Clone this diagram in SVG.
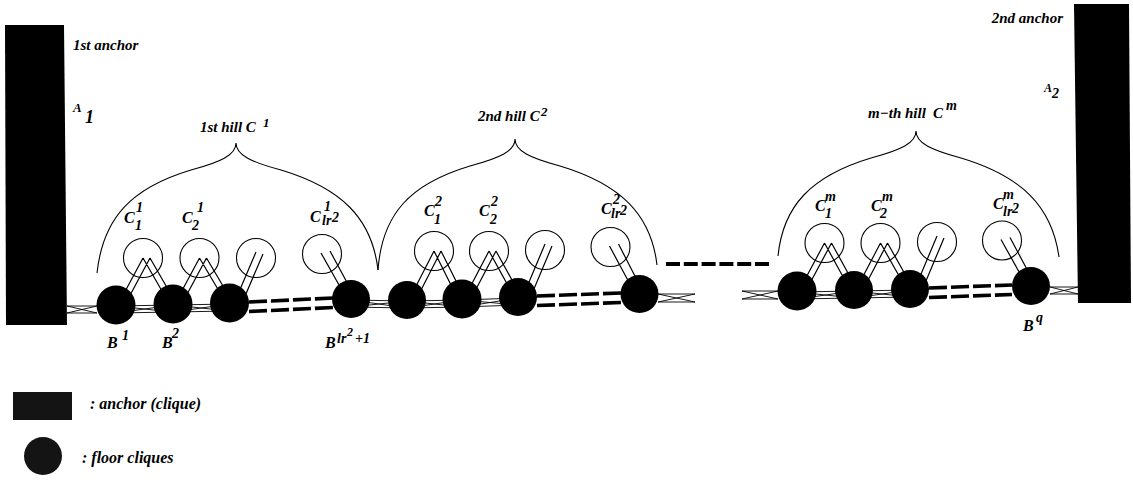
<svg xmlns="http://www.w3.org/2000/svg" width="1133" height="480" viewBox="0 0 1133 480">
  <style>
    .t { font-family: "Liberation Serif", "Times New Roman", serif; font-weight: bold; font-style: italic; fill: #000; }
    .lbl { font-size: 15px; }
    .leg { font-size: 16px; }
    .cc { font-size: 16px; }
    .ss { font-size: 14px; }
    .brace { fill: none; stroke: #000; stroke-width: 1.1; }
    .hillnode { fill: none; stroke: #000; stroke-width: 1.1; }
    .floor { fill: #000; }
    .strand { fill: none; stroke: #000; stroke-width: 0.9; }
    .link { fill: none; stroke: #000; stroke-width: 1.2; }
    .dash { fill: none; stroke: #000; stroke-width: 3.6; stroke-dasharray: 18 4; }
    .gapdash { fill: none; stroke: #000; stroke-width: 4.2; stroke-dasharray: 14 3.8; }
  </style>

  <!-- anchors -->
  <g id="anchor1">
    <polygon points="5,25 64,25 67,325 6,325" fill="#000"/>
    <text class="t lbl" x="73" y="50">1st anchor</text>
    <text class="t" x="73" y="112" font-size="13">A</text>
    <text class="t" x="85" y="123" font-size="18">1</text>
  </g>
  <g id="anchor2">
    <polygon points="1074,4 1129,4 1131,303 1078,303" fill="#000"/>
    <text class="t lbl" x="1063" y="23" text-anchor="end">2nd anchor</text>
    <text class="t" x="1044" y="92" font-size="12">A</text>
    <text class="t" x="1052" y="98" font-size="14">2</text>
  </g>

  <!-- hill braces -->
  <g id="hill1">
    <path class="brace" d="M236,143 C236,155 221,162 191,170 C131,188 103,218 97,273 M236,143 C236,155 251,162 281,170 C341,188 372,218 378,270"/>
    <text class="t lbl" x="200" y="132">1st hill C</text>
    <text class="t" x="263" y="127" font-size="13">1</text>
  </g>
  <g id="hill2">
    <path class="brace" d="M515,139 C515,151 500,158 470,166 C410,184 382,214 378,270 M515,139 C515,151 530,158 560,166 C620,184 651,214 657,265"/>
    <text class="t lbl" x="478" y="121">2nd hill C</text>
    <text class="t" x="541" y="116" font-size="13">2</text>
  </g>
  <g id="hillm">
    <path class="brace" d="M916,131 C916,143 901,150 871,158 C811,176 783,206 778,256 M916,131 C916,143 931,150 961,158 C1021,176 1052,206 1059,257"/>
    <text class="t lbl" y="118"><tspan x="868">m−th hill</tspan><tspan x="933">C</tspan></text>
    <text class="t" x="946" y="110" font-size="14">m</text>
  </g>

  <!-- connectors: floor strands, dashed runs and hill links -->
  <g id="connectors">
    <path class="strand" d="
      M67,306 L97,313 M67,313 L97,306 M67,306 L97,306 M67,313 L97,313
      M116,306 L173,305 M116,313 L173,312 M116,306 L173,312 M116,313 L173,305
      M173,305 L229.5,304 M173,312 L229.5,311 M173,305 L229.5,311 M173,312 L229.5,304
      M351,300 L407,301 M351,307 L407,308 M351,300 L407,308 M351,307 L407,301
      M407,301 L462,300 M407,308 L462,307 M407,301 L462,307 M407,308 L462,300
      M462,300 L518,298 M462,307 L518,305 M462,300 L518,305 M462,307 L518,298
      M658,294 L695,302 M658,302 L695,294 M658,294 L695,294 M658,302 L695,302
      M742,291 L778,299 M742,299 L778,291 M742,291 L778,291 M742,299 L778,299
      M797,292 L854,291 M797,299 L854,298 M797,292 L854,298 M797,299 L854,291
      M854,291 L910,290 M854,298 L910,297 M854,291 L910,297 M854,298 L910,290
      M1050,287 L1078,294 M1050,294 L1078,287 M1050,287 L1078,287 M1050,294 L1078,294"/>
    <path class="dash" d="M249,302 L333,298 M249,311.5 L333,307.5 M537,296 L621,293 M537,305.5 L621,302.5 M929,288 L1012,285 M929,297.5 L1012,294.5"/>
    <path class="gapdash" d="M666,264 L769,264"/>
    <path class="link" d="
      M143,258 L121,299 M150,258 L128,299 M143,258 L166,298 M150,258 L173,298
      M199.5,258 L178,298 M206.5,258 L185,298 M199.5,258 L222.5,297 M206.5,258 L229.5,297
      M256,252 L235.5,300 M263,254 L242.5,302
      M321,253 L343,292 M330,251 L350,288
      M434,251 L412,294 M441,251 L419,294 M434,251 L455,293 M441,251 L462,293
      M489,251 L467,293 M496,251 L474,293 M489,251 L511,291 M496,251 L518,291
      M545,244 L524,294 M552,246 L531,296
      M609.5,246 L631.5,287 M618.5,244 L638.5,283
      M824.5,243 L802,285 M831.5,243 L809,285 M824.5,243 L847,284 M831.5,243 L854,284
      M880.5,243 L859,284 M887.5,243 L866,284 M880.5,243 L903,283 M887.5,243 L910,283
      M937,236 L916,286 M944,238 L923,288
      M1001,239.5 L1023,279 M1010,237.5 L1030,275"/>
  </g>

  <!-- hill cliques -->
  <g id="c1-1"><circle class="hillnode" cx="143" cy="258" r="19.5"/>
    <text class="t cc" x="124" y="223">C</text><text class="t ss" x="136" y="212">1</text><text class="t ss" x="135" y="230">1</text></g>
  <g id="c1-2"><circle class="hillnode" cx="199.5" cy="258" r="19.5"/>
    <text class="t cc" x="182" y="223">C</text><text class="t ss" x="197" y="212">1</text><text class="t ss" x="192" y="230">2</text></g>
  <g id="c1-3"><circle class="hillnode" cx="256" cy="258" r="19.5"/></g>
  <g id="c1-lr2"><circle class="hillnode" cx="322" cy="254" r="19.5"/>
    <text class="t cc" x="310" y="222">C</text><text class="t ss" x="324" y="211">1</text><text class="t ss" x="322" y="225">lr</text><text class="t ss" x="332" y="222">2</text></g>

  <g id="c2-1"><circle class="hillnode" cx="434" cy="251" r="19.5"/>
    <text class="t cc" x="424" y="216">C</text><text class="t ss" x="435" y="206">2</text><text class="t ss" x="434" y="224">1</text></g>
  <g id="c2-2"><circle class="hillnode" cx="489" cy="251" r="19.5"/>
    <text class="t cc" x="479" y="216">C</text><text class="t ss" x="491" y="206">2</text><text class="t ss" x="490" y="224">2</text></g>
  <g id="c2-3"><circle class="hillnode" cx="545" cy="250" r="19.5"/></g>
  <g id="c2-lr2"><circle class="hillnode" cx="610.5" cy="247" r="19.5"/>
    <text class="t cc" x="601" y="214">C</text><text class="t ss" x="613" y="204">2</text><text class="t ss" x="611" y="218">lr</text><text class="t ss" x="620" y="215">2</text></g>

  <g id="cm-1"><circle class="hillnode" cx="824.5" cy="243" r="19.5"/>
    <text class="t cc" x="815" y="211">C</text><text class="t ss" x="825" y="201">m</text><text class="t ss" x="825" y="218">1</text></g>
  <g id="cm-2"><circle class="hillnode" cx="880.5" cy="243" r="19.5"/>
    <text class="t cc" x="871" y="211">C</text><text class="t ss" x="882" y="201">m</text><text class="t ss" x="880" y="218">2</text></g>
  <g id="cm-3"><circle class="hillnode" cx="937" cy="242" r="19.5"/></g>
  <g id="cm-lr2"><circle class="hillnode" cx="1002" cy="240.5" r="19.5"/>
    <text class="t cc" x="993" y="209">C</text><text class="t ss" x="1003" y="199">m</text><text class="t ss" x="1003" y="216">lr</text><text class="t ss" x="1012" y="213">2</text></g>

  <!-- floor cliques -->
  <g id="b1"><circle class="floor" cx="116" cy="305" r="19.5"/>
    <text class="t cc" x="107" y="348">B</text><text class="t ss" x="122" y="340">1</text></g>
  <g id="b2"><circle class="floor" cx="173" cy="304" r="19.5"/>
    <text class="t cc" x="162" y="348">B</text><text class="t ss" x="172" y="338">2</text></g>
  <g id="b3"><circle class="floor" cx="229.5" cy="303" r="19.5"/></g>
  <g id="b-lr2p1"><circle class="floor" cx="351" cy="299" r="19"/>
    <text class="t cc" x="325" y="348">B</text><text class="t ss" x="337" y="343">lr</text><text class="t" x="347" y="336" font-size="12">2</text><text class="t ss" x="355" y="343">+1</text></g>
  <g id="b5"><circle class="floor" cx="407" cy="300" r="19"/></g>
  <g id="b6"><circle class="floor" cx="462" cy="299" r="19.5"/></g>
  <g id="b7"><circle class="floor" cx="518" cy="297" r="19"/></g>
  <g id="b8"><circle class="floor" cx="639.5" cy="294" r="19"/></g>
  <g id="b9"><circle class="floor" cx="797" cy="291" r="19.5"/></g>
  <g id="b10"><circle class="floor" cx="854" cy="290" r="19"/></g>
  <g id="b11"><circle class="floor" cx="910" cy="289" r="19"/></g>
  <g id="bq"><circle class="floor" cx="1031" cy="286" r="19"/>
    <text class="t cc" x="1023" y="331">B</text><text class="t ss" x="1036" y="322">q</text></g>

  <!-- legend -->
  <g id="legend-anchor">
    <rect x="13" y="392" width="59" height="28" fill="#141414"/>
    <text class="t leg" x="90" y="409">: anchor (clique)</text>
  </g>
  <g id="legend-floor">
    <circle cx="43" cy="456" r="19" fill="#141414"/>
    <text class="t leg" x="82" y="463">: floor cliques</text>
  </g>
</svg>
